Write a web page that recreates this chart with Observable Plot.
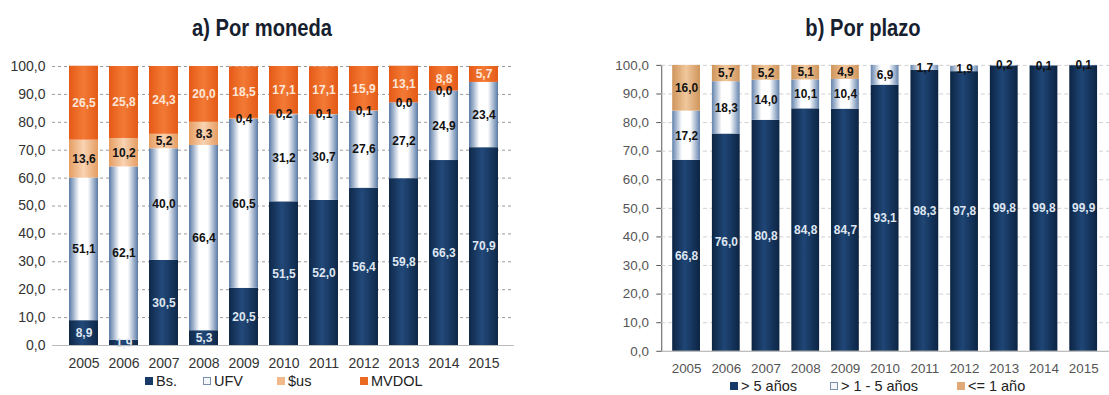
<!DOCTYPE html>
<html>
<head>
<meta charset="utf-8">
<script src="https://cdn.jsdelivr.net/npm/d3@7"></script>
<script src="https://cdn.jsdelivr.net/npm/@observablehq/plot@0.6"></script>
<style>
  html, body { margin: 0; padding: 0; background: #fff; overflow: hidden; }
  #wrap { position: relative; width: 1109px; height: 395px; overflow: hidden; font-family: "Liberation Sans", Arial, sans-serif; }
  .title { position: absolute; text-align: center; font-family: "Liberation Sans", Arial, sans-serif; font-weight: bold; font-size: 24px; line-height: 24px; color: #17202e; transform: scaleX(0.84); transform-origin: center; }
  .panel { position: absolute; }
  .leg { position: absolute; font-size: 14.5px; color: #222; white-space: nowrap; line-height: 15px; }
  .leg i { display: inline-block; width: 8px; height: 8px; margin-right: 3px; vertical-align: 1px; box-sizing: border-box; }
</style>
</head>
<body>
<div id="wrap">
  <div class="title" style="left:0;width:524px;top:16px;">a) Por moneda</div>
  <div class="title" style="left:563px;width:600px;top:16px;">b) Por plazo</div>
  <div class="panel" id="left" style="left:0;top:50px;"></div>
  <div class="panel" id="right" style="left:560px;top:50px;"></div>
  <div id="legA"></div>
  <div id="legB"></div>
</div>
<script>
// ---- data ----
const years = ["2005","2006","2007","2008","2009","2010","2011","2012","2013","2014","2015"];
const yTicks = [0,10,20,30,40,50,60,70,80,90,100];

// a) Por moneda
const seriesA = ["Bs.", "UFV", "$us", "MVDOL"];
const bs    = [8.9, 1.9, 30.5, 5.3, 20.5, 51.5, 52.0, 56.4, 59.8, 66.3, 70.9];
const ufv   = [51.1, 62.1, 40.0, 66.4, 60.5, 31.2, 30.7, 27.6, 27.2, 24.9, 23.4];
const usd   = [13.6, 10.2, 5.2, 8.3, 0.4, 0.2, 0.1, 0.1, 0.0, 0.0, null];
const mvdol = [26.5, 25.8, 24.3, 20.0, 18.5, 17.1, 17.1, 15.9, 13.1, 8.8, 5.7];

// b) Por plazo
const seriesB = ["> 5 años", "> 1 - 5 años", "<= 1 año"];
const largo = [66.8, 76.0, 80.8, 84.8, 84.7, 93.1, 98.3, 97.8, 99.8, 99.8, 99.9];
const medio = [17.2, 18.3, 14.0, 10.1, 10.4, 6.9, 1.7, 1.9, 0.2, 0.1, 0.1];
const corto = [16.0, 5.7, 5.2, 5.1, 4.9, null, null, null, null, null, null];

// ---- styling ----
const fillA = {"Bs.": "url(#gNavyA)", "UFV": "url(#gUfvA)", "$us": "url(#gPeachA)", "MVDOL": "url(#gOrangeA)"};
const textA = {"Bs.": "#dfe6f0", "UFV": "#111", "$us": "#111", "MVDOL": "#fde6d8"};
const fillB = {"> 5 años": "url(#gNavyB)", "> 1 - 5 años": "url(#gUfvB)", "<= 1 año": "url(#gPeachB)"};
const textB = {"> 5 años": "#dfe6f0", "> 1 - 5 años": "#111", "<= 1 año": "#111"};
const swatchA = {"Bs.": "#173a66", "UFV": "#f4f6fa", "$us": "#f2b98a", "MVDOL": "#ea6a22"};
const swatchB = {"> 5 años": "#173a66", "> 1 - 5 años": "#f4f6fa", "<= 1 año": "#e0aa78"};

const fmt = v => v.toFixed(1).replace(".", ",");

function longData(series, arrays) {
  const out = [];
  years.forEach((y, i) => series.forEach((s, k) => {
    const v = arrays[k][i];
    out.push({year: y, series: s, value: v == null ? 0 : v, raw: v});
  }));
  return out;
}
const dataA = longData(seriesA, [bs, ufv, usd, mvdol]);
const dataB = longData(seriesB, [largo, medio, corto]);

function addGradients(svg, defs) {
  const d = d3.select(svg).insert("defs", ":first-child");
  for (const [id, stops] of defs) {
    const g = d.append("linearGradient").attr("id", id).attr("x1", 0).attr("x2", 1).attr("y1", 0).attr("y2", 0);
    stops.forEach(([o, c]) => g.append("stop").attr("offset", o).attr("stop-color", c));
  }
}

// ---- left chart ----
const left = Plot.plot({
  width: 520, height: 320,
  marginLeft: 52, marginRight: 6, marginTop: 16, marginBottom: 25,
  style: {fontFamily: "'Liberation Sans', Arial, sans-serif", fontSize: "14px", color: "#333", background: "transparent"},
  x: {domain: years, padding: 0.28, tickSize: 0, tickPadding: 13, label: null},
  y: {domain: [0, 100], ticks: yTicks, tickFormat: fmt, tickSize: 0, tickPadding: 7, label: null},
  color: {type: "identity"},
  marks: [
    Plot.ruleY(yTicks, {stroke: "#9a9a9a", strokeDasharray: "3,3", strokeWidth: 1}),
    Plot.barY(dataA, {x: "year", y: "value", fill: d => fillA[d.series]}),
    Plot.text(dataA, Plot.stackY({x: "year", y: "value",
      text: d => d.raw == null ? "" : fmt(d.raw),
      fill: d => textA[d.series], fontWeight: "bold", fontSize: 12})),
    Plot.ruleY([0], {stroke: "#bbb"})
  ]
});
addGradients(left, [
  ["gNavyA", [[0, "#0f2848"], [0.45, "#22497a"], [1, "#0f2848"]]],
  ["gUfvA", [[0, "#5a7aa6"], [0.35, "#ffffff"], [0.65, "#ffffff"], [1, "#5a7aa6"]]],
  ["gPeachA", [[0, "#e59d62"], [0.5, "#f9d3b2"], [1, "#e59d62"]]],
  ["gOrangeA", [[0, "#e55a17"], [0.5, "#f27a35"], [1, "#e55a17"]]]
]);
document.getElementById("left").appendChild(left);

// ---- right chart ----
const right = Plot.plot({
  width: 553, height: 340,
  marginLeft: 102, marginRight: 0, marginTop: 15, marginBottom: 37,
  style: {fontFamily: "'Liberation Sans', Arial, sans-serif", fontSize: "13.5px", color: "#555", background: "transparent"},
  x: {domain: years, paddingInner: 0.29, paddingOuter: 0.17, tickSize: 0, tickPadding: 12, label: null},
  y: {domain: [0, 100], ticks: yTicks, tickFormat: fmt, tickSize: 5, tickPadding: 8, label: null, line: true},
  color: {type: "identity"},
  marks: [
    Plot.ruleY(yTicks.filter(t => t > 0), {stroke: "#d0d0d0", strokeDasharray: "4,3", strokeWidth: 1}),
    Plot.barY(dataB, {x: "year", y: "value", fill: d => fillB[d.series]}),
    Plot.text(dataB, Plot.stackY({x: "year", y: "value",
      text: d => d.raw == null ? "" : fmt(d.raw),
      fill: d => textB[d.series], fontWeight: "bold", fontSize: 12})),
    Plot.ruleY([0], {stroke: "#aaa"})
  ]
});
addGradients(right, [
  ["gNavyB", [[0, "#0c2443"], [0.45, "#1f4676"], [1, "#0c2443"]]],
  ["gUfvB", [[0, "#6483ad"], [0.35, "#ffffff"], [0.65, "#ffffff"], [1, "#6483ad"]]],
  ["gPeachB", [[0, "#cf955c"], [0.5, "#f0c79c"], [1, "#cf955c"]]]
]);
document.getElementById("right").appendChild(right);

// ---- legends ----
function legend(el, series, swatch, lefts, top) {
  series.forEach((s, i) => {
    const div = document.createElement("div");
    div.className = "leg";
    div.style.left = lefts[i] + "px";
    div.style.top = top + "px";
    const sw = document.createElement("i");
    sw.style.background = swatch[s];
    if (swatch[s] === "#f4f6fa") sw.style.border = "1px solid #7b8fae";
    div.appendChild(sw);
    div.appendChild(document.createTextNode(s));
    el.appendChild(div);
  });
}
legend(document.getElementById("legA"), seriesA, swatchA, [145, 203, 277, 360], 374);
legend(document.getElementById("legB"), seriesB, swatchB, [730, 830, 957], 379);
</script>
</body>
</html>
